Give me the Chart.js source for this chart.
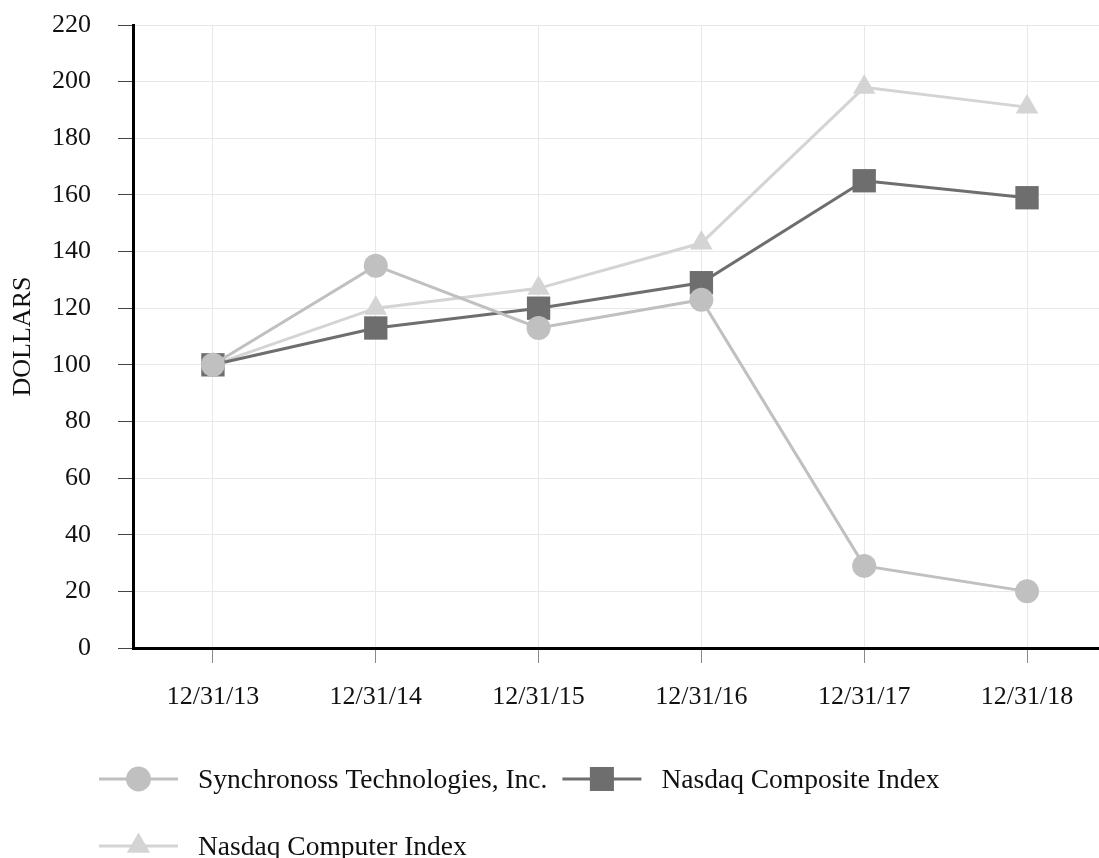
<!DOCTYPE html>
<html>
<head>
<meta charset="utf-8">
<script src="https://cdn.jsdelivr.net/npm/chart.js@4.4.1/dist/chart.umd.min.js"></script>
<style>
  html, body { margin: 0; padding: 0; background: #fff; overflow: hidden; }
  canvas { display: block; }
</style>
</head>
<body>
<canvas id="perfChart" width="1099" height="858"></canvas>
<script>
// --- Data ---
const categories = ['12/31/13', '12/31/14', '12/31/15', '12/31/16', '12/31/17', '12/31/18'];
const sncrValues = [100, 135, 113, 123, 29, 20];
const compositeValues = [100, 113, 120, 129, 165, 159];
const computerValues = [100, 120, 127, 143, 198, 191];
const yMin = 0, yMax = 220, yStep = 20;

const serif = '"Liberation Serif", "Times New Roman", serif';

function toPoints(values) {
    return values.map((v, i) => ({ x: i, y: v }));
}

// Legend with a line through the marker, laid out left-aligned in rows
const lineLegend = {
    id: 'lineLegend',
    afterDraw(chart) {
        const ctx = chart.ctx;
        const startX = 99, lineLen = 79, textGap = 20, itemGap = 15, rowH = 67;
        let x = startX, y = 779;
        ctx.save();
        ctx.font = '27.5px ' + serif;
        ctx.textBaseline = 'middle';
        chart.data.datasets.forEach(ds => {
            const textW = ctx.measureText(ds.label).width;
            const itemW = lineLen + textGap + textW;
            if (x > startX && x + itemW > chart.width) {
                x = startX;
                y += rowH;
            }
            ctx.strokeStyle = ds.borderColor;
            ctx.lineWidth = ds.borderWidth;
            ctx.beginPath();
            ctx.moveTo(x, y);
            ctx.lineTo(x + lineLen, y);
            ctx.stroke();
            ctx.fillStyle = ds.pointBackgroundColor;
            Chart.helpers.drawPoint(ctx, {
                pointStyle: ds.pointStyle,
                radius: ds.pointRadius + 0.5,
                rotation: 0,
                borderWidth: 0
            }, x + lineLen / 2, y);
            ctx.fillStyle = '#111';
            ctx.fillText(ds.label, x + lineLen + textGap, y + 2);
            x += itemW + itemGap;
        });
        ctx.restore();
    }
};

const ctx = document.getElementById('perfChart').getContext('2d');

const perfChart = new Chart(ctx, {
    type: 'line',
    data: {
        datasets: [{
            label: 'Synchronoss Technologies, Inc.',
            data: toPoints(sncrValues),
            borderColor: '#c0c0c0',
            pointBackgroundColor: '#c0c0c0',
            borderWidth: 3,
            pointStyle: 'circle',
            pointRadius: 12,
            pointBorderWidth: 0
        }, {
            label: 'Nasdaq Composite Index',
            data: toPoints(compositeValues),
            borderColor: '#6e6e6e',
            pointBackgroundColor: '#6e6e6e',
            borderWidth: 3,
            pointStyle: 'rect',
            pointRadius: 16.5,
            pointBorderWidth: 0
        }, {
            label: 'Nasdaq Computer Index',
            data: toPoints(computerValues),
            borderColor: '#d4d4d4',
            pointBackgroundColor: '#d4d4d4',
            borderWidth: 3,
            pointStyle: 'triangle',
            pointRadius: 13,
            pointBorderWidth: 0
        }]
    },
    options: {
        responsive: false,
        devicePixelRatio: 1,
        animation: false,
        layout: {
            autoPadding: false,
            padding: { top: 25, left: 0, right: 0, bottom: 0 }
        },
        plugins: {
            legend: { display: false },
            tooltip: { enabled: false }
        },
        elements: { line: { tension: 0 } },
        scales: {
            x: {
                type: 'linear',
                min: -0.491,
                max: 5.442,
                afterBuildTicks: (scale) => {
                    scale.ticks = categories.map((_, i) => ({ value: i }));
                },
                afterFit: (scale) => {
                    scale.height = 210;
                    scale.paddingLeft = 0;
                    scale.paddingRight = 0;
                },
                border: { color: '#000', width: 3 },
                grid: {
                    color: '#e8e8e8',
                    lineWidth: 1,
                    tickColor: '#888',
                    tickLength: 15
                },
                ticks: {
                    color: '#111',
                    padding: 19,
                    maxRotation: 0,
                    font: { family: serif, size: 26 },
                    callback: (value) => categories[value]
                }
            },
            y: {
                min: yMin,
                max: yMax,
                afterFit: (scale) => {
                    scale.width = 133;
                    scale.paddingTop = 0;
                    scale.paddingBottom = 0;
                },
                border: { color: '#000', width: 3 },
                grid: {
                    color: '#e8e8e8',
                    lineWidth: 1,
                    tickColor: '#444',
                    tickLength: 15
                },
                ticks: {
                    stepSize: yStep,
                    color: '#111',
                    padding: 27,
                    font: { family: serif, size: 26 }
                },
                title: {
                    display: true,
                    text: 'DOLLARS',
                    color: '#111',
                    padding: { top: 8, bottom: 0 },
                    font: { family: serif, size: 26 }
                }
            }
        }
    },
    plugins: [lineLegend]
});
</script>
</body>
</html>
